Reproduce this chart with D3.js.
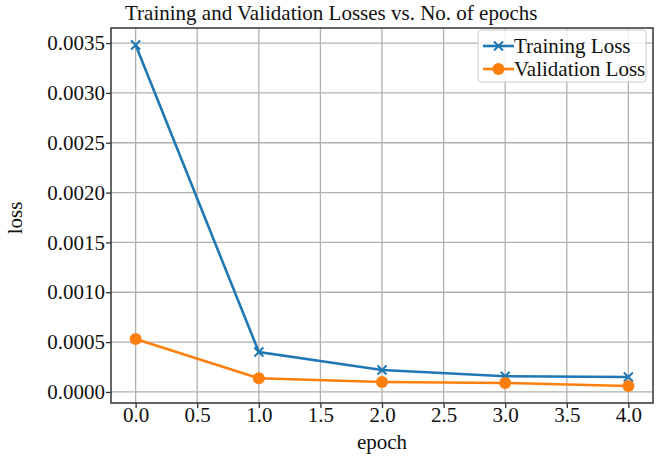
<!DOCTYPE html>
<html>
<head>
<meta charset="utf-8">
<script src="https://cdn.jsdelivr.net/npm/d3@7"></script>
<style>
  body { margin: 0; background: #fff; }
  svg { display: block; }
  svg text { font-family: "Liberation Serif", "DejaVu Serif", serif; }
</style>
</head>
<body>
<div id="chart"></div>
<script>
const width = 657, height = 457;

// data
const epochs = [0, 1, 2, 3, 4];
const trainingLoss = [0.00348, 0.00040, 0.00022, 0.000158, 0.000150];
const validationLoss = [0.00053, 0.000137, 0.000100, 0.000090, 0.000060];
const xTicks = [0, 0.5, 1, 1.5, 2, 2.5, 3, 3.5, 4];
const yTicks = [0, 0.0005, 0.001, 0.0015, 0.002, 0.0025, 0.003, 0.0035];

const margin = {top: 28, right: 4, bottom: 54, left: 111};
const fontSize = 21;

const series = [
  {name: 'Training Loss', values: trainingLoss, color: '#1f77b4', marker: 'x'},
  {name: 'Validation Loss', values: validationLoss, color: '#ff7f0e', marker: 'o'}
];

// matplotlib-style 5% margins
const xMin = d3.min(epochs), xMax = d3.max(epochs);
const xPad = (xMax - xMin) * 0.05;
const allY = trainingLoss.concat(validationLoss);
const yMin = d3.min(allY), yMax = d3.max(allY);
const yPad = (yMax - yMin) * 0.05;

const x = d3.scaleLinear()
  .domain([xMin - xPad, xMax + xPad])
  .range([margin.left, width - margin.right]);

const y = d3.scaleLinear()
  .domain([yMin - yPad, yMax + yPad])
  .range([height - margin.bottom, margin.top]);

const svg = d3.select('#chart').append('svg')
  .attr('width', width)
  .attr('height', height);

// grid
const grid = svg.append('g').attr('stroke', '#b0b0b0').attr('stroke-width', 1.3);
grid.selectAll('line.vx').data(xTicks).enter().append('line')
  .attr('x1', d => x(d)).attr('x2', d => x(d))
  .attr('y1', margin.top).attr('y2', height - margin.bottom);
grid.selectAll('line.hy').data(yTicks).enter().append('line')
  .attr('y1', d => y(d)).attr('y2', d => y(d))
  .attr('x1', margin.left).attr('x2', width - margin.right);

// axes
const xAxis = svg.append('g')
  .attr('transform', `translate(0,${height - margin.bottom})`)
  .call(d3.axisBottom(x).tickValues(xTicks).tickFormat(d3.format('.1f')).tickSize(5).tickSizeOuter(0));
const yAxis = svg.append('g')
  .attr('transform', `translate(${margin.left},0)`)
  .call(d3.axisLeft(y).tickValues(yTicks).tickFormat(d3.format('.4f')).tickSize(5).tickSizeOuter(0));

[xAxis, yAxis].forEach(ax => {
  ax.attr('font-family', '"Liberation Serif", serif').attr('font-size', fontSize);
  ax.select('.domain').remove();
  ax.selectAll('.tick line').attr('stroke', '#333').attr('stroke-width', 1.3);
  ax.selectAll('.tick text').attr('fill', '#111');
});
xAxis.selectAll('.tick text').attr('dy', null).attr('y', 19);
yAxis.selectAll('.tick text').attr('x', -6);

// frame
svg.append('rect')
  .attr('x', margin.left).attr('y', margin.top)
  .attr('width', width - margin.right - margin.left)
  .attr('height', height - margin.bottom - margin.top)
  .attr('fill', 'none').attr('stroke', '#333').attr('stroke-width', 1.5);

// lines + markers
const line = d3.line().x((d, i) => x(epochs[i])).y(d => y(d));

function drawMarker(g, type, color, cx, cy) {
  if (type === 'x') {
    const s = 4.5;
    g.append('path')
      .attr('d', `M${cx - s},${cy - s}L${cx + s},${cy + s}M${cx - s},${cy + s}L${cx + s},${cy - s}`)
      .attr('stroke', color).attr('stroke-width', 2);
  } else {
    g.append('circle').attr('cx', cx).attr('cy', cy).attr('r', 6).attr('fill', color);
  }
}

series.forEach(s => {
  const g = svg.append('g');
  g.append('path')
    .datum(s.values)
    .attr('d', line)
    .attr('fill', 'none')
    .attr('stroke', s.color)
    .attr('stroke-width', 2.6);
  s.values.forEach((v, i) => drawMarker(g, s.marker, s.color, x(epochs[i]), y(v)));
});

// legend
const lg = svg.append('g').attr('transform', 'translate(478,30)');
lg.append('rect')
  .attr('width', 168).attr('height', 52).attr('rx', 3)
  .attr('fill', 'rgba(255,255,255,0.8)').attr('stroke', '#ccc');
series.forEach((s, i) => {
  const yy = 16 + i * 23;
  lg.append('line').attr('x1', 5).attr('x2', 36).attr('y1', yy).attr('y2', yy)
    .attr('stroke', s.color).attr('stroke-width', 2.6);
  drawMarker(lg, s.marker, s.color, 20.5, yy);
  lg.append('text').attr('x', 36).attr('y', yy).attr('dy', '0.35em')
    .style('font-size', fontSize + 'px').attr('fill', '#111').text(s.name);
});

// titles
const cx = (margin.left + width - margin.right) / 2;
svg.append('text')
  .attr('x', 125).attr('y', 20)
  .attr('text-anchor', 'start').style('font-size', fontSize + 'px').attr('fill', '#111')
  .text('Training and Validation Losses vs. No. of epochs');

svg.append('text')
  .attr('x', cx).attr('y', 449)
  .attr('text-anchor', 'middle').style('font-size', fontSize + 'px').attr('fill', '#111')
  .text('epoch');

svg.append('text')
  .attr('transform', `translate(22,218) rotate(-90)`)
  .attr('text-anchor', 'middle').style('font-size', fontSize + 'px').attr('fill', '#111')
  .text('loss');
</script>
</body>
</html>
